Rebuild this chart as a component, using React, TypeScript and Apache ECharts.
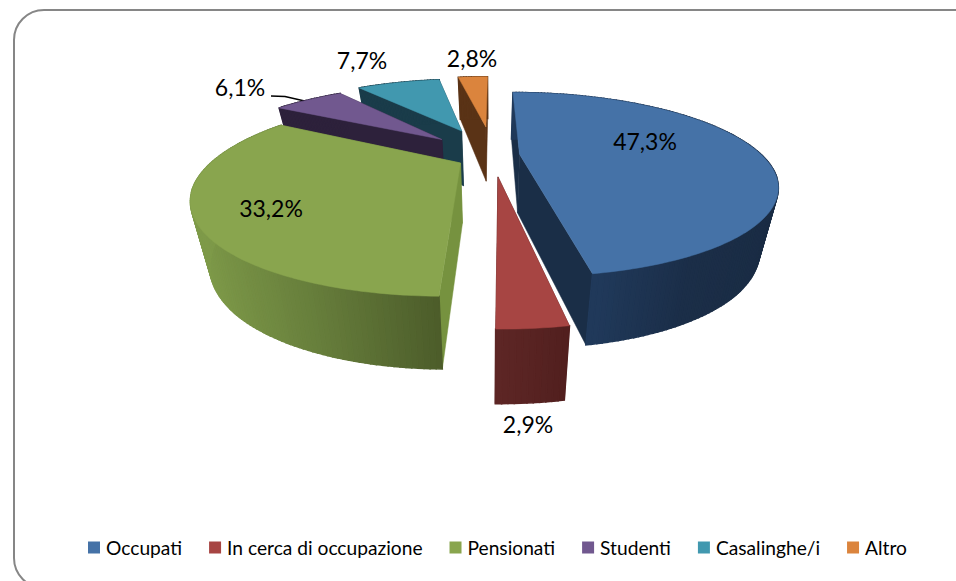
import React, { useEffect, useRef } from "react";
import * as echarts from "echarts";

const CATEGORIES = ["Occupati", "In cerca di occupazione", "Pensionati", "Studenti", "Casalinghe/i", "Altro"];
const VALUES = [47.3, 2.9, 33.2, 6.1, 7.7, 2.8];
const VALUE_LABELS = ["47,3%", "2,9%", "33,2%", "6,1%", "7,7%", "2,8%"];

const TOP_COLORS = ["#4572A7", "#A74543", "#89A54E", "#71588F", "#4198AF", "#DB843D"];
const CUT_COLORS = ["#1A2E47", "#52201F", "#76923F", "#2D213B", "#1A3C4A", "#5A3316"];
const WALL_STOPS = [
  ["#20395A", "#20395A", "#1B2E48", "#1A2C44"],
  ["#5E2625", "#582322", "#511F1E"],
  ["#7E9A49", "#667D3B", "#4C5C2A"],
  ["#2D213B", "#2D213B"],
  ["#1A3C4A", "#1A3C4A"],
  ["#5A3316", "#5A3316"],
];
// Explosion of each slice on the pie's plane, in radii.
const EXPLODE_X = [0.11, 0.019, -0.13, -0.225, -0.143, -0.033];
const EXPLODE_Y = [-0.01, 0.244, 0.094, -0.2, -0.322, -0.382];
const PAINT_ORDER = [5, 4, 3, 2, 0, 1];
const LABEL_X = [645, 528, 271, 240, 362, 472];
const LABEL_Y = [141, 424, 208, 87, 60, 58];

const CX = 493, CY = 155, RX = 242, RY = 82.5, PERSP = 0.33;
const project = (x: number, y: number): number[] => {
  const w = 1 - PERSP * y;
  return [CX + (RX * x) / w, CY + (RY * y) / w];
};
const lower = (x: number, y: number): number[] => {
  const p = project(x, y);
  return [p[0] + (490 - p[0]) * 0.065, p[1] + 59 + 12.5 * y];
};

function renderSlice(params: any) {
  const i = params.seriesIndex;
  const total = VALUES.reduce((a, b) => a + b, 0);
  const before = VALUES.slice(0, i).reduce((a, b) => a + b, 0);
  const start = (before / total) * Math.PI * 2;
  const end = ((before + VALUES[i]) / total) * Math.PI * 2;
  const ox = EXPLODE_X[i], oy = EXPLODE_Y[i];
  const rim: number[][] = [];
  const steps = Math.max(6, Math.ceil(((end - start) * 180) / Math.PI));
  for (let s = 0; s <= steps; s++) {
    const a = start + ((end - start) * s) / steps;
    rim.push([Math.sin(a) + ox, -Math.cos(a) + oy]);
  }
  const apex = [ox, oy];
  const first = rim[0], last = rim[rim.length - 1];
  const poly = (pts: number[][], fill: string, lineWidth = 0.5) => ({
    type: "polygon",
    silent: true,
    shape: { points: pts },
    style: { fill, stroke: fill, lineWidth },
  });
  const topPts = [apex, ...rim].map((p) => project(p[0], p[1]));
  const xs = rim.map((p) => project(p[0], p[1])[0]);
  const minX = Math.min(...xs), maxX = Math.max(...xs);
  const quads = rim.slice(1).map((p, s) => {
    const q = rim[s];
    const a = project(q[0], q[1]), b = project(p[0], p[1]);
    const t = ((a[0] + b[0]) / 2 - minX) / Math.max(1, maxX - minX);
    return poly([a, b, lower(p[0], p[1]), lower(q[0], q[1])], echarts.color.lerp(t, WALL_STOPS[i]) as string, 1.5);
  });
  const cut = (edge: number[]) =>
    poly([project(apex[0], apex[1]), project(edge[0], edge[1]), lower(edge[0], edge[1]), lower(apex[0], apex[1])], CUT_COLORS[i]);
  return {
    type: "group",
    children: [
      cut(last),
      cut(first),
      ...quads,
      poly(topPts, TOP_COLORS[i]),
      {
        type: "text",
        silent: true,
        x: LABEL_X[i],
        y: LABEL_Y[i],
        style: {
          text: VALUE_LABELS[i],
          fill: "#000000",
          fontFamily: "Lato",
          fontSize: 23,
          align: "center",
          verticalAlign: "middle",
        },
      },
    ],
  };
}

export default function App() {
  const ref = useRef<HTMLDivElement>(null);
  useEffect(() => {
    document.body.style.margin = "0";
    const chart = echarts.init(ref.current!, undefined, { renderer: "svg" });
    chart.setOption({
      animation: false,
      backgroundColor: "#ffffff",
      legend: {
        left: 83,
        top: 533,
        itemWidth: 12,
        itemHeight: 12,
        itemGap: 27,
        icon: "rect",
        selectedMode: false,
        textStyle: { fontFamily: "Lato", fontSize: 19.2, color: "#000000", padding: [2, 0, 0, 1] },
        data: CATEGORIES.map((name, i) => ({ name, itemStyle: { color: TOP_COLORS[i] } })),
      },
      graphic: [
        {
          type: "rect",
          silent: true,
          shape: { x: 14, y: 10, width: 970, height: 578, r: 30 },
          style: { fill: "transparent", stroke: "#868686", lineWidth: 2 },
        },
        {
          type: "polyline",
          silent: true,
          shape: { points: [[271, 96], [285, 96.5], [309, 102]] },
          style: { fill: "none", stroke: "#000000", lineWidth: 1.6 },
        },
      ],
      series: CATEGORIES.map((name, i) => ({
        type: "custom",
        name,
        coordinateSystem: "none",
        z: 2 + PAINT_ORDER.indexOf(i),
        itemStyle: { color: TOP_COLORS[i] },
        data: [VALUES[i]],
        renderItem: renderSlice,
      })),
    });
    return () => chart.dispose();
  }, []);
  return <div ref={ref} style={{ position: "fixed", left: 0, top: 0, width: 956, height: 581 }} />;
}
